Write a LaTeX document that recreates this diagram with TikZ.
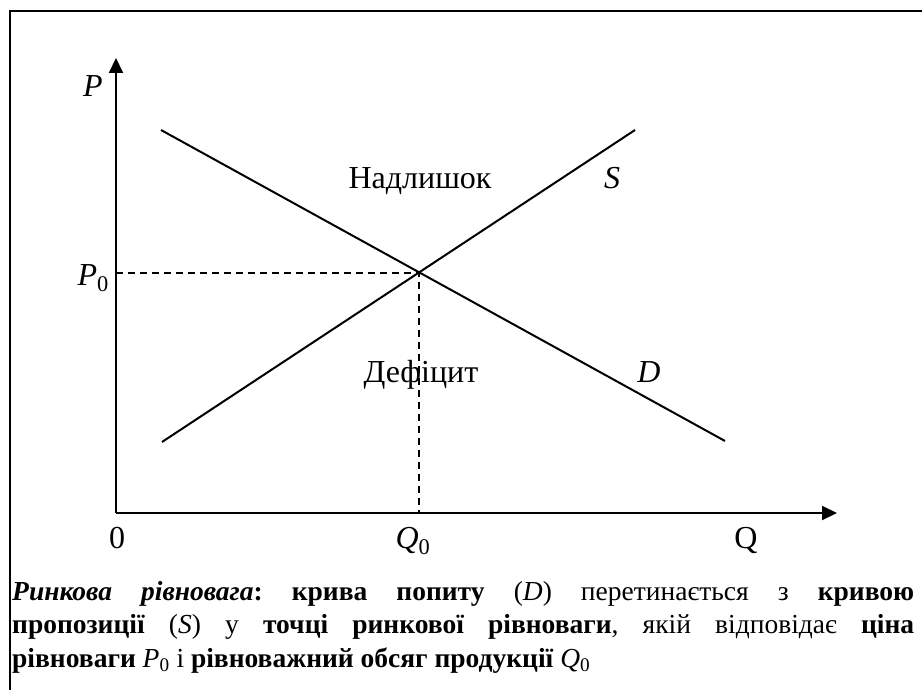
\documentclass[tikz,border=0pt]{standalone}
\usepackage{fontspec}
\setmainfont{Liberation Serif}
\usetikzlibrary{arrows.meta}
\newcommand{\subz}[1]{#1\textsubscript{0}}
\frenchspacing
\begin{document}
\begin{tikzpicture}[x=1pt,y=-1pt,
  axisline/.style={line width=2pt,-{Triangle[length=15pt,width=14pt]}},
  curve/.style={line width=2pt},
  guide/.style={line width=1.8pt,dash pattern=on 7pt off 5pt},
  lbl/.style={font=\fontsize{32}{38}\selectfont,inner sep=0pt,anchor=base},
  framestyle/.style={line width=2pt}]
\useasboundingbox (0,0) rectangle (922,690);
% frame (left and top edges visible)
\coordinate (fbl) at (10,691);
\coordinate (ftl) at (10,11);
\coordinate (ftr) at (923,11);
\draw[framestyle] (fbl) -- (ftl) -- (ftr);
% axes
\coordinate (O) at (116,513);
\coordinate (ytip) at (116,58);
\coordinate (xtip) at (837,513);
\draw[axisline] (O) -- (ytip);
\draw[axisline] (O) -- (xtip);
% curves
\coordinate (Ds) at (161,130);
\coordinate (De) at (725,441);
\coordinate (Ss) at (162,442);
\coordinate (Se) at (635,130);
\coordinate (E) at (419,273);
\coordinate (Ey) at (116,273);
\coordinate (Ex) at (419,513);
\draw[curve] (Ds) -- (De);
\draw[curve] (Ss) -- (Se);
\draw[guide] (Ey) -- (E) -- (Ex);
% labels
\node[lbl] (lP) at (93,97) {\textit{P}};
\node[lbl,anchor=base east] (lP0) at (109,285) {\subz{\textit{P}}};
\node[lbl] (lsur) at (420,189) {Надлишок};
\node[lbl] (lS) at (612,189) {\textit{S}};
\node[lbl] (ldef) at (421,382) {Дефіцит};
\node[lbl] (lD) at (649,382) {\textit{D}};
\node[lbl] (l0) at (117,548) {0};
\node[lbl] (lQ0) at (413,548) {\subz{\textit{Q}}};
\node[lbl] (lQ) at (746,548) {Q};
% caption
\node[inner sep=0pt,anchor=north west,text width=902pt,align=justify,
      font=\fontsize{27.5}{33.5}\selectfont] (cap) at (12,581) {%
\textbf{\textit{Ринкова рівновага}:} \textbf{крива попиту} (\textit{D}) перетинається з \textbf{кривою}\linebreak
\textbf{пропозиції} (\textit{S}) у \textbf{точці ринкової рівноваги}, якій відповідає \textbf{ціна}\linebreak
\textbf{рівноваги} \subz{\textit{P}} і \textbf{рівноважний обсяг продукції} \subz{\textit{Q}}\par};
\end{tikzpicture}
\end{document}
